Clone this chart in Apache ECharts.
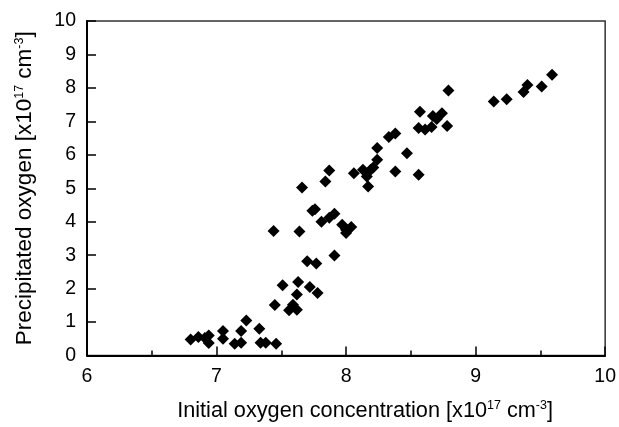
<!DOCTYPE html>
<html><head><meta charset="utf-8">
<script src="https://cdn.jsdelivr.net/npm/echarts@6/dist/echarts.min.js"></script>
<style>html,body{margin:0;padding:0;background:#fff}#c{width:619px;height:427px}</style>
</head><body><div id="c"></div>
<script>
const initialOxygen = [6.80,6.86,6.91,6.94,6.94,7.05,7.05,7.14,7.19,7.19,7.23,7.33,7.34,7.38,7.46,
  7.44,7.45,7.51,7.56,7.59,7.62,7.62,7.63,7.64,7.66,7.70,7.72,7.74,7.76,7.77,7.78,
  7.81,7.84,7.87,7.87,7.91,7.91,7.97,8.00,8.04,8.00,
  8.06,8.13,8.16,8.17,8.19,8.21,8.24,8.24,8.33,8.38,8.38,8.47,8.56,8.56,8.57,8.61,8.66,8.67,8.70,8.74,8.78,8.79,
  9.14,9.24,9.37,9.40,9.51,9.59];
const precipitatedOxygen = [0.48,0.55,0.52,0.60,0.37,0.73,0.50,0.35,0.38,0.73,1.05,0.80,0.38,0.38,0.35,
  3.72,1.51,2.10,1.35,1.52,1.37,1.82,2.20,3.71,5.02,2.82,2.05,4.33,4.37,2.75,1.87,
  4.00,5.20,5.53,4.12,4.24,2.99,3.91,3.76,3.84,3.66,
  5.45,5.55,5.35,5.05,5.55,5.62,6.20,5.85,6.53,6.64,5.50,6.05,5.40,6.80,7.29,6.76,6.83,7.16,7.07,7.24,6.86,7.92,
  7.59,7.66,7.88,8.09,8.04,8.39];
const xTicks = [6,7,8,9,10];
const yTicks = [0,1,2,3,4,5,6,7,8,9,10];

const points = initialOxygen.map((x,i)=>[x, precipitatedOxygen[i]]);
const font = 'Liberation Sans, Arial, sans-serif';
const supStyle = {fontSize:12.5, fontFamily:font, color:'#000', verticalAlign:'top', padding:[0,0,10,0]};
const chart = echarts.init(document.getElementById('c'), null, {renderer:'canvas'});
chart.setOption({
  animation:false,
  backgroundColor:'#fff',
  grid:{left:87, right:12, top:21, bottom:71, show:true, borderColor:'#333', borderWidth:1.5},
  xAxis:{
    type:'value', min:xTicks[0], max:xTicks[xTicks.length-1], interval:1,
    axisLine:{show:true, onZero:false, lineStyle:{color:'#000', width:2}},
    axisTick:{show:true, inside:true, length:9, lineStyle:{color:'#000', width:1.5}},
    minorTick:{show:true, splitNumber:2, length:5, lineStyle:{color:'#000', width:1.5}},
    splitLine:{show:false},
    axisLabel:{color:'#000', fontSize:19.5, fontFamily:font, margin:11},
    name:'Initial oxygen concentration [x10{sup|17} cm{sup|-3}]',
    nameLocation:'middle', nameGap:44,
    nameTextStyle:{color:'#000', fontSize:21.7, fontFamily:font, padding:[0,0,0,38], rich:{sup:supStyle}}
  },
  yAxis:{
    type:'value', min:yTicks[0], max:yTicks[yTicks.length-1], interval:1,
    axisLine:{show:true, onZero:false, lineStyle:{color:'#000', width:2}},
    axisTick:{show:true, inside:true, length:9, lineStyle:{color:'#000', width:1.5}},
    splitLine:{show:false},
    axisLabel:{color:'#000', fontSize:19.5, fontFamily:font, margin:11},
    name:'Precipitated oxygen [x10{sup|17} cm{sup|-3}]',
    nameLocation:'middle', nameGap:51, nameRotate:90,
    nameTextStyle:{color:'#000', fontSize:22.5, fontFamily:font, rich:{sup:supStyle}}
  },
  series:[{
    type:'scatter', data:points, symbol:'diamond', symbolSize:12,
    itemStyle:{color:'#000', opacity:1}
  }]
});
</script></body></html>
